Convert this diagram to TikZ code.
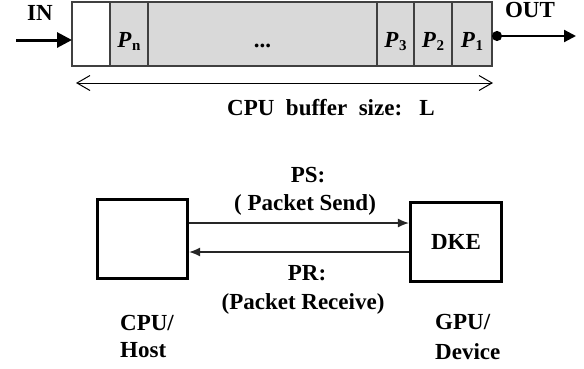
\documentclass[tikz,border=0pt]{standalone}
\usepackage{fontspec}
\setmainfont{Liberation Serif}
\usetikzlibrary{arrows.meta}
\definecolor{cellgray}{HTML}{D9D9D9}
\definecolor{edgegray}{HTML}{404040}
\newcommand{\pk}[1]{\textit{P}\kern0.5pt\raisebox{-3.5pt}{\fontsize{15}{15}\selectfont #1}}
\tikzset{
  lbl/.style={font=\fontsize{23}{28}\selectfont\bfseries, inner sep=0pt, text height=15pt, text depth=0pt},
  cell/.style={draw=edgegray, line width=1.3pt, fill=cellgray, minimum height=64pt, inner sep=0pt, outer sep=0pt, anchor=west},
  hostbox/.style={draw=black, line width=3.3pt, minimum width=90pt, minimum height=79pt, inner sep=0pt},
  thinarr/.style={draw=black!85, line width=1.2pt, -{Latex[length=11pt,width=9pt]}}
}
\begin{document}
\begin{tikzpicture}[x=1pt,y=-1pt]
\useasboundingbox (0,0) rectangle (584,368);
% buffer cells
\node[cell, fill=white, minimum width=38pt] (c0) at (72,34) {};
\node[cell, minimum width=38pt] (cn) at (110,34) {};
\node[cell, minimum width=229pt] (cd) at (148,34) {};
\node[cell, minimum width=37pt] (c3) at (377,34) {};
\node[cell, minimum width=38pt] (c2) at (414,34) {};
\node[cell, minimum width=40pt] (c1) at (452,34) {};
% cell labels
\node[lbl] (tn) at (cn.center |- 0,39.5) {\pk{n}};
\node[lbl] (td) at (cd.center |- 0,39.5) {...};
\node[lbl] (t3) at (c3.center |- 0,39.5) {\pk{3}};
\node[lbl] (t2) at (c2.center |- 0,39.5) {\pk{2}};
\node[lbl] (t1) at (c1.center |- 0,39.5) {\pk{1}};
% IN / OUT
\node[lbl] (inL) at (40,12.5) {IN};
\node[lbl] (outL) at (530,9.5) {OUT};
\coordinate (inS) at (16,40);
\draw[line width=3pt, -{Triangle[length=15pt,width=15pt]}] (inS) -- (c0.west |- inS);
\coordinate (outE) at (576,36);
\draw[line width=2.2pt, {Circle[length=10pt]}-{Triangle[length=12pt,width=12pt]}] (c1.east |- outE) -- (outE);
% buffer size
\coordinate (dL) at (76,83);
\coordinate (dR) at (493,83);
\draw[line width=1pt, {Straight Barb[length=13pt,width=15pt,line width=1pt]}-{Straight Barb[length=13pt,width=15pt,line width=1pt]}] (dL) -- (dR);
\node[lbl] (size) at (331,108) {CPU\ \ buffer\ \ size:\ \ \ L};
% host / device
\node[hostbox] (cpu) at (142.5,239) {};
\node[hostbox, lbl, minimum width=91pt, minimum height=79pt, line width=3.3pt, draw=black] (dke) at (456,242) {DKE};
\coordinate (psA) at ([yshift=16pt]cpu.east);
\coordinate (prA) at ([yshift=-13pt]cpu.east);
\draw[thinarr] (psA) -- (psA -| dke.west);
\draw[thinarr] (prA -| dke.west) -- (prA);
\node[lbl] (ps1) at (308,175) {PS:};
\node[lbl] (ps2) at (305,203) {( Packet Send)};
\node[lbl] (pr1) at (307,273) {PR:};
\node[lbl] (pr2) at (303,302) {(Packet Receive)};
\node[lbl, anchor=west] (h1) at (120,323) {CPU/};
\node[lbl, anchor=west] (h2) at (120,350) {Host};
\node[lbl, anchor=west] (g1) at (435,322) {GPU/};
\node[lbl, anchor=west] (g2) at (435,352) {Device};
\end{tikzpicture}
\end{document}
